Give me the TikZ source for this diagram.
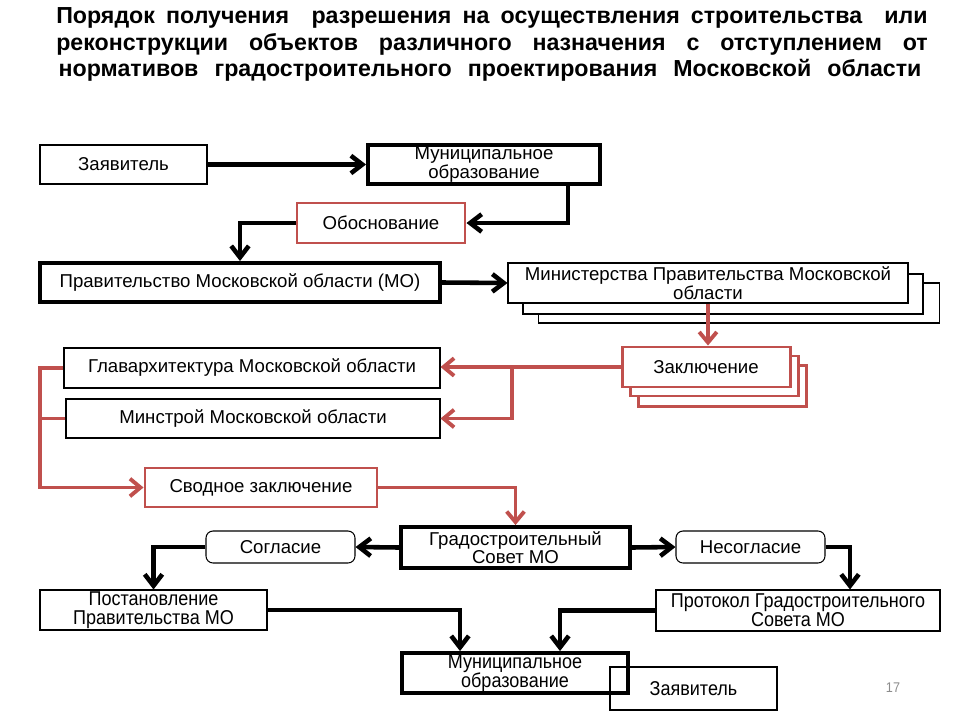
\documentclass[tikz,border=0pt]{standalone}
\usepackage{fontspec}
\setmainfont{Liberation Sans}
\newfontfamily\narrowfont[FakeStretch=0.9]{Liberation Sans}
\usetikzlibrary{arrows.meta}
\definecolor{zred}{RGB}{192,80,77}
\newcommand{\pxu}{0.02cm}

\tikzset{
  boxwh/.style 2 args={minimum width=#1*\pxu, minimum height=#2*\pxu},
  thinbox/.style={draw, line width=0.6pt, inner sep=0pt, align=center,
    font=\fontsize{10.6}{8.8}\selectfont},
  boldbox/.style={thinbox, line width=2.2pt},
  redbox/.style={thinbox, draw=zred, line width=1.7pt},
  roundbox/.style={thinbox, rounded corners=4pt},
  narrowtext/.style={font=\narrowfont\fontsize{11.4}{10.8}\selectfont},
  arr/.style={line width=2.6pt, -{Straight Barb[length=6.5pt,width=10pt]}},
  redarr/.style={zred, line width=2.2pt, -{Straight Barb[length=6pt,width=10pt]}},
  redline/.style={zred, line width=2.2pt},
  titleline/.style={inner sep=0pt, font=\bfseries\fontsize{13.2}{15}\selectfont}
}

\begin{document}
\begin{tikzpicture}[x=0.02cm, y=-0.02cm]
\useasboundingbox (0,0) rectangle (960,720);

% title
\node[titleline] (title1) at (492,18) {\makebox[496pt][s]{Порядок получения\ \ разрешения на осуществления строительства\ \ или}};
\node[titleline] (title2) at (492,44) {\makebox[496pt][s]{реконструкции объектов различного назначения с отступлением от}};
\node[titleline] (title3) at (490,70) {\makebox[491pt][s]{нормативов градостроительного проектирования Московской области}};

% boxes
\node[thinbox, boxwh={167}{39}] (zayav) at (123.5,164.5) {Заявитель};
\node[boldbox, boxwh={232}{39}] (mun1) at (484,164.5) {Муниципальное\\образование};
\node[redbox, boxwh={168}{40}] (obosn) at (381,223) {Обоснование};
\node[boldbox, boxwh={400}{39}] (prav) at (240,282.5) {Правительство Московской области (МО)};

\node[thinbox, fill=white, boxwh={401}{40}] (min3) at (739,303) {};
\node[thinbox, fill=white, boxwh={400}{40}] (min2) at (723,294) {};
\node[thinbox, fill=white, boxwh={400}{40}] (min1) at (708,283) {Министерства Правительства Московской\\области};

\node[redbox, fill=white, boxwh={168}{41}] (zakl3) at (722,386) {};
\node[redbox, fill=white, boxwh={168}{40}] (zakl2) at (714,376) {};
\node[redbox, fill=white, boxwh={168}{40}] (zakl1) at (706,367) {Заключение};

\node[thinbox, boxwh={376}{40}] (glav) at (252,368) {Главархитектура Московской области};
\node[thinbox, boxwh={374}{39}] (minstroy) at (253,418.5) {Минстрой Московской области};
\node[redbox, boxwh={232}{39}] (svod) at (261,487.5) {Сводное заключение};

\node[boldbox, boxwh={229}{41}] (grad) at (515.5,547.5) {Градостроительный\\Совет МО};
\node[roundbox, boxwh={149}{32}] (sogl) at (280.5,547) {Согласие};
\node[roundbox, boxwh={149}{32}] (nesogl) at (750.5,547) {Несогласие};

\node[thinbox, narrowtext, boxwh={227}{40}] (postan) at (153.5,610) {Постановление\\Правительства МО};
\node[thinbox, narrowtext, boxwh={284}{41}] (protok) at (798,610.5) {Протокол Градостроительного\\Совета МО};
\node[boldbox, narrowtext, boxwh={226}{40}] (mun2) at (515,673) {Муниципальное\\образование};
\node[thinbox, narrowtext, boxwh={167}{43}] (zayav2) at (693.5,688.5) {Заявитель};

\node[font=\narrowfont\fontsize{8}{8}\selectfont, text=black!45] (pagenum) at (893,688) {17};

% connectors
\draw[arr] (zayav.east) -- (mun1.west);
\draw[arr] (mun1.south -| 568,0) |- (obosn.east);
\draw[arr] (obosn.west) -| (prav.north);
\draw[arr] (prav.east) -- (min1.west);
\draw[redarr] (min1.south) -- (min1.south |- zakl1.north);
\draw[redarr] (zakl1.west) -- (zakl1.west -| glav.east);
\draw[redarr] (zakl1.west -| 512,0) |- (minstroy.east);
\draw[redarr] (glav.west) -- (glav.west -| 40,0) |- (svod.west);
\draw[redline] (minstroy.west) -- (minstroy.west -| 40,0);
\draw[redarr] (svod.east) -| (grad.north);
\draw[arr] (grad.west) -- (sogl.east);
\draw[arr] (grad.east) -- (nesogl.west);
\draw[arr] (sogl.west) -| (postan.north);
\draw[arr] (nesogl.east) -| (protok.north -| 850,0);
\draw[arr] (postan.east) -| (mun2.north -| 460,0);
\draw[arr] (protok.west) -| (mun2.north -| 560,0);
\end{tikzpicture}
\end{document}
